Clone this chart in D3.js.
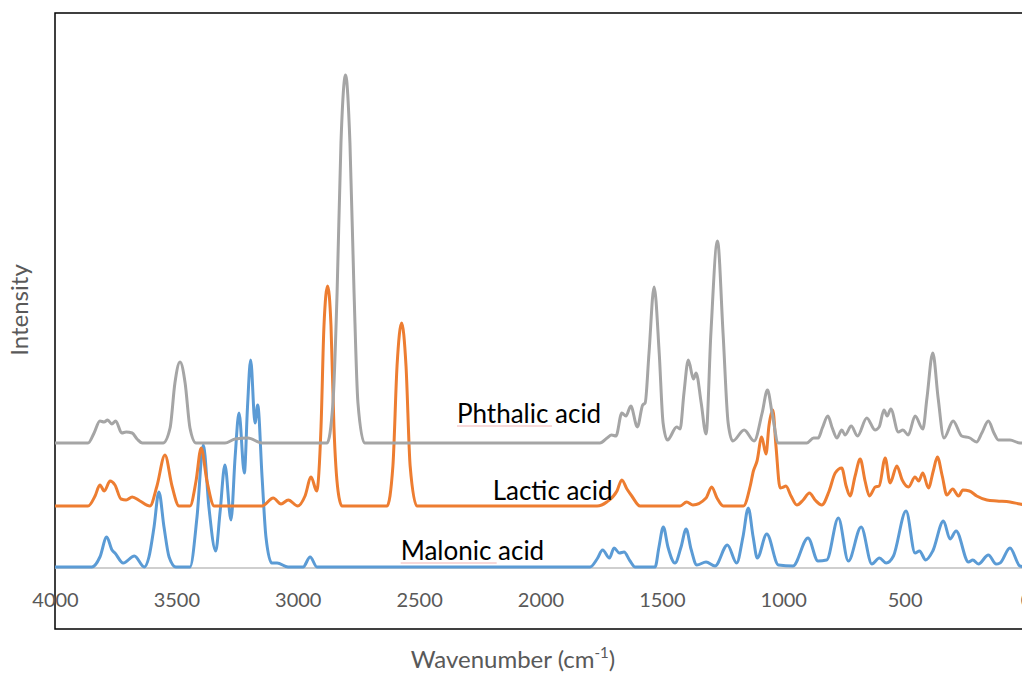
<!DOCTYPE html>
<html lang="en">
	<head>
		<meta charset="utf-8">
		<title>IR spectra of three acids</title>
		<script type="text/javascript" src="https://cdn.jsdelivr.net/npm/d3@7"></script>
		<style type="text/css">
			body{
				margin: 0;
				background: #fff;
			}
			text{
				font-family: Lato, "Open Sans", sans-serif;
			}
		</style>
	</head>
	<body>
	<script type="text/javascript">

			//Width and height
			var w = 1022;
			var h = 675;
			var plotLeft = 55, plotRight = 1026, plotTop = 13, plotBottom = 629, base = 567;

			//Spectra: [wavenumber, intensity above own baseline]
			var malonic = [
				[4000,0],[3848,0],[3815,10],[3787,30],[3765,17],[3753,14],[3719,4],[3673,11],[3632,0],
				[3613,10],[3592,40],[3572,75],[3551,40],[3530,10],[3502,0],[3444,0],[3415,50],[3389,122],
				[3366,60],[3338,16],[3320,55],[3300,102],[3275,47],[3258,110],[3242,154],[3220,94],
				[3207,160],[3194,207],[3176,144],[3165,162],[3147,90],[3131,30],[3107,4],[3085,4],[3040,0],
				[2978,0],[2949,10],[2921,0],[1796,0],[1767,8],[1744,17],[1716,9],[1697,19],[1675,14],
				[1656,15],[1631,6],[1610,0],[1528,0],[1512,20],[1494,40],[1475,20],[1446,4],[1421,20],
				[1400,38],[1380,18],[1356,2],[1318,5],[1281,1],[1230,22],[1192,4],[1166,30],[1144,59],
				[1124,30],[1107,9],[1068,33],[1020,2],[960,1],[898,29],[857,6],[821,7],[773,49],[732,6],
				[679,40],[635,3],[604,9],[576,4],[546,11],[494,56],[457,14],[439,16],[413,7],[384,16],
				[340,46],[313,28],[288,36],[237,5],[219,7],[196,3],[155,12],[123,3],[107,4],[66,19],
				[25,1],[0,0]
			];

			var lactic = [
				[4000,0],[3864,0],[3835,10],[3815,21],[3797,15],[3773,25],[3753,21],[3728,7],[3707,6],
				[3682,9],[3650,5],[3609,0],[3580,20],[3547,51],[3518,20],[3489,0],[3444,0],[3419,25],
				[3398,58],[3374,25],[3344,0],[3147,0],[3101,8],[3069,2],[3039,6],[3000,0],[2970,10],
				[2945,29],[2922,15],[2904,80],[2892,180],[2877,220],[2863,180],[2851,80],[2834,15],
				[2818,0],[2632,0],[2608,40],[2591,140],[2572,183],[2554,140],[2537,40],[2509,0],
				[1767,0],[1727,4],[1685,15],[1665,26],[1644,17],[1624,10],[1590,0],[1425,0],[1398,4],
				[1372,1],[1318,8],[1295,19],[1273,8],[1247,0],[1164,0],[1136,20],[1123,35],[1108,45],
				[1089,69],[1071,52],[1059,80],[1043,96],[1030,60],[1013,18],[999,19],[989,20],[968,10],
				[944,1],[918,6],[892,13],[869,6],[841,1],[811,15],[786,33],[759,38],[741,20],[725,10],
				[704,30],[683,47],[663,25],[645,10],[621,19],[605,20],[580,48],[560,23],[532,40],
				[510,26],[484,19],[457,29],[442,25],[425,33],[402,18],[382,35],[365,49],[345,30],
				[326,11],[302,17],[278,10],[260,16],[233,15],[203,10],[161,6],[120,5],[66,4],[25,2],[0,1]
			];

			var phthalic = [
				[4000,0],[3864,0],[3839,10],[3815,22],[3798,21],[3783,23],[3766,19],[3750,22],[3725,10],
				[3707,11],[3682,10],[3662,4],[3640,0],[3555,0],[3526,15],[3506,60],[3485,81],[3464,60],
				[3444,15],[3419,0],[3300,0],[3258,4],[3205,5],[3147,0],[2879,0],[2855,40],[2838,150],
				[2822,300],[2803,368],[2785,300],[2768,150],[2752,40],[2725,0],[1755,0],[1726,5],
				[1707,8],[1689,7],[1665,30],[1648,27],[1628,37],[1601,16],[1579,38],[1569,40],[1553,90],
				[1532,156],[1511,90],[1495,20],[1477,3],[1439,16],[1425,14],[1409,50],[1391,83],
				[1370,64],[1359,70],[1338,40],[1318,9],[1298,110],[1271,202],[1248,110],[1227,20],
				[1208,2],[1161,13],[1120,2],[1087,30],[1065,53],[1046,30],[1020,0],[903,0],[875,5],
				[856,5],[839,15],[816,27],[798,15],[779,5],[759,13],[745,8],[720,17],[694,7],[656,25],
				[622,13],[605,16],[585,33],[572,27],[557,34],[526,11],[507,13],[485,8],[457,27],
				[425,14],[408,45],[384,90],[362,45],[338,5],[300,22],[265,7],[231,5],[204,1],[182,10],
				[155,22],[132,10],[114,3],[66,3],[25,0],[0,0]
			];

			var seriesNames = ["Malonic acid", "Lactic acid", "Phthalic acid"];
			var seriesData = [malonic, lactic, phthalic];
			var seriesOffset = [0, 61, 124];
			var seriesColor = ["#5b9bd5", "#ed7d31", "#a5a5a5"];

			//Where the series names sit: [start wavenumber, lift above baseline]
			var labelWn = [2576, 2197, 2344];
			var labelLift = [7, 6, 20];
			var labelUnderline = [96, 0, 95];

			var xTicks = [4000, 3500, 3000, 2500, 2000, 1500, 1000, 500, 0];

			//Create scale functions
			var xScale = d3.scaleLinear()
								 .domain([4000, 0])
								 .range([plotLeft, plotRight]);

			var yScale = d3.scaleLinear()
								 .domain([0, base - plotTop])
								 .range([base, plotTop]);

			//Create SVG element
			var svg = d3.select("body")
						.append("svg")
						.attr("width", w)
						.attr("height", h);

			//Plot frame
			svg.append("rect")
			   .attr("x", plotLeft)
			   .attr("y", plotTop)
			   .attr("width", plotRight - plotLeft + 40)
			   .attr("height", plotBottom - plotTop)
			   .attr("fill", "none")
			   .attr("stroke", "#000")
			   .attr("stroke-width", 1.5);

			//x axis
			var xAxis = d3.axisBottom(xScale)
						  .tickValues(xTicks)
						  .tickSize(0)
						  .tickPadding(25)
						  .tickFormat(d3.format("d"));

			var gx = svg.append("g")
			   .attr("transform", "translate(0," + (base + 1) + ")")
			   .call(xAxis);
			gx.select(".domain")
			  .attr("stroke", "#bfbfbf")
			  .attr("stroke-width", 1.5)
			  .attr("d", "M" + plotLeft + ",0H" + (plotRight + 40));
			gx.selectAll("text")
			  .attr("font-family", "Lato, sans-serif")
			  .attr("font-size", "20px")
			  .attr("fill", "#595959");

			//Create lines
			var line = d3.line()
						 .x(function(d) { return xScale(d[0]); })
						 .y(function(d) { return yScale(d[1]); })
						 .curve(d3.curveMonotoneX);

			svg.selectAll("path.spectrum")
			   .data(seriesData)
			   .enter()
			   .append("path")
			   .attr("class", "spectrum")
			   .attr("d", function(d, i) {
			   		return line(d.map(function(p) { return [p[0], p[1] + seriesOffset[i]]; }));
			   })
			   .attr("fill", "none")
			   .attr("stroke", function(d, i) { return seriesColor[i]; })
			   .attr("stroke-width", 3)
			   .attr("stroke-linejoin", "round");

			//Series names
			svg.selectAll("text.name")
			   .data(seriesNames)
			   .enter()
			   .append("text")
			   .attr("class", "name")
			   .text(function(d) { return d; })
			   .attr("x", function(d, i) { return xScale(labelWn[i]); })
			   .attr("y", function(d, i) { return yScale(seriesOffset[i] + labelLift[i]); })
			   .attr("font-size", "26px")
			   .attr("fill", "#000");

			//spell-check squiggles under the names
			svg.selectAll("line.squiggle")
			   .data(seriesNames.filter(function(d, i) { return labelUnderline[i] > 0; }))
			   .enter()
			   .append("line")
			   .attr("class", "squiggle")
			   .each(function(d) {
			   		var i = seriesNames.indexOf(d);
			   		var x0 = xScale(labelWn[i]);
			   		var y0 = yScale(seriesOffset[i] + labelLift[i]) + 3;
			   		d3.select(this)
			   		  .attr("x1", x0).attr("x2", x0 + labelUnderline[i])
			   		  .attr("y1", y0).attr("y2", y0);
			   })
			   .attr("stroke", "#f2b3b3")
			   .attr("stroke-width", 1);

			//Axis titles
			var xt = svg.append("text")
			   .attr("x", 513)
			   .attr("y", 668)
			   .attr("text-anchor", "middle")
			   .attr("font-size", "24px")
			   .attr("fill", "#595959");
			xt.append("tspan").text("Wavenumber (cm");
			xt.append("tspan").text("-1").attr("font-size", "15px").attr("dy", -10);
			xt.append("tspan").text(")").attr("dy", 10);

			svg.append("text")
			   .attr("transform", "translate(28,310) rotate(-90)")
			   .attr("text-anchor", "middle")
			   .attr("font-size", "24px")
			   .attr("fill", "#595959")
			   .text("Intensity");

		</script>
	</body>
</html>
